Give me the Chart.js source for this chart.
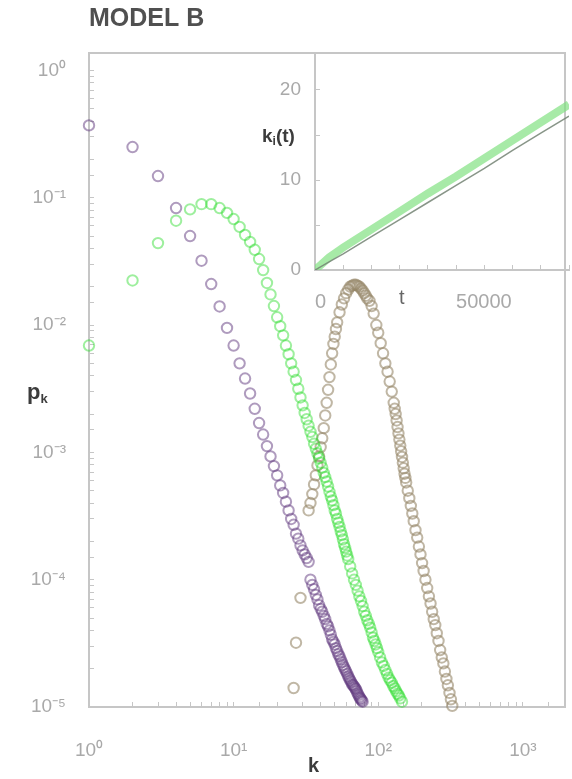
<!DOCTYPE html>
<html>
<head>
<meta charset="utf-8">
<script src="https://cdn.jsdelivr.net/npm/chart.js@4.4.1/dist/chart.umd.min.js"></script>
<style>
  html, body { margin: 0; padding: 0; background: #fff; }
  #wrap { position: relative; width: 572px; height: 779px; }
  #main { position: absolute; left: 0; top: 0; }
  #inset { position: absolute; left: 255px; top: 40px; }
</style>
</head>
<body>
<div id="wrap">
  <canvas id="main" width="572" height="779"></canvas>
  <canvas id="inset" width="317" height="280"></canvas>
</div>
<script>
// degree distribution p_k, three runs
const purpleK = [1, 2, 3, 4, 5, 6, 7, 8, 9, 10, 11, 12, 13, 14, 15, 16, 17, 18, 19, 20,
  21, 22, 23, 24, 25, 26, 27, 28, 29, 30, 31, 32, 33, 34, 35, 36, 37, 38, 39, 40,
  41, 42, 43, 44, 45, 46, 47, 48, 49, 50, 51, 52, 53, 54, 55, 56, 57, 58, 59, 60,
  61, 62, 63, 64, 65, 66, 67, 68, 69, 70, 71, 72, 73, 74, 75, 76, 77, 78];
const purpleP = [3.7e-1, 2.5e-1, 1.48e-1, 8.3e-2, 5.0e-2, 3.2e-2, 2.1e-2, 1.4e-2, 9.5e-3, 6.9e-3,
  5.0e-3, 3.8e-3, 2.9e-3, 2.2e-3, 1.7e-3, 1.38e-3, 1.12e-3, 9.3e-4, 7.8e-4, 6.6e-4,
  5.5e-4, 4.8e-4, 4.1e-4, 3.5e-4, 3.0e-4, 2.7e-4, 2.3e-4, 2.1e-4, 1.86e-4, 1.7e-4,
  1.58e-4, 1.48e-4, 1.38e-4, 1.0e-4, 9.1e-5, 8.4e-5, 7.6e-5, 7.0e-5, 6.3e-5, 5.9e-5,
  5.6e-5, 5.2e-5, 4.9e-5, 4.5e-5, 4.3e-5, 4.0e-5, 3.7e-5, 3.4e-5, 3.25e-5, 3.1e-5,
  2.9e-5, 2.75e-5, 2.6e-5, 2.5e-5, 2.37e-5, 2.25e-5, 2.14e-5, 2.05e-5, 1.97e-5, 1.9e-5,
  1.82e-5, 1.74e-5, 1.68e-5, 1.62e-5, 1.57e-5, 1.51e-5, 1.48e-5, 1.45e-5, 1.41e-5, 1.38e-5,
  1.33e-5, 1.28e-5, 1.24e-5, 1.2e-5, 1.17e-5, 1.15e-5, 1.12e-5, 1.1e-5];

const greenK = [1, 2, 3, 4, 5, 6, 7, 8, 9, 10, 11, 12, 13, 14, 15, 16, 17, 18, 19, 20,
  21, 22, 23, 24, 25, 26, 27, 28, 29, 30, 31, 32, 33, 34, 35, 36, 37, 38, 39, 40,
  41, 42, 43, 44, 45, 46, 47, 48, 49, 50, 51, 52, 53, 54, 55, 56, 57, 58, 59, 60,
  61, 62, 64, 66, 68, 70, 72, 74, 76, 78, 80, 82, 84, 86, 88, 90, 92, 94, 96, 98,
  100, 103, 106, 109, 112, 115, 118, 121, 124, 127, 130, 133, 136, 139, 142, 146];
const greenP = [6.9e-3, 2.24e-2, 4.4e-2, 6.6e-2, 8.1e-2, 8.9e-2, 8.9e-2, 8.3e-2, 7.6e-2, 6.8e-2,
  5.9e-2, 5.1e-2, 4.5e-2, 3.9e-2, 3.3e-2, 2.7e-2, 2.14e-2, 1.74e-2, 1.41e-2, 1.15e-2,
  9.8e-3, 8.3e-3, 6.9e-3, 5.9e-3, 5.0e-3, 4.3e-3, 3.7e-3, 3.16e-3, 2.7e-3, 2.34e-3,
  2.04e-3, 1.82e-3, 1.62e-3, 1.45e-3, 1.32e-3, 1.17e-3, 1.07e-3, 9.8e-4, 9.0e-4, 8.3e-4,
  7.6e-4, 6.9e-4, 6.4e-4, 5.9e-4, 5.4e-4, 4.9e-4, 4.5e-4, 4.2e-4, 3.85e-4, 3.5e-4,
  3.3e-4, 3.0e-4, 2.8e-4, 2.6e-4, 2.4e-4, 2.24e-4, 2.07e-4, 1.9e-4, 1.78e-4, 1.66e-4,
  1.55e-4, 1.45e-4, 1.27e-4, 1.12e-4, 1.0e-4, 9.1e-5, 8.2e-5, 7.4e-5, 6.8e-5, 6.2e-5,
  5.6e-5, 5.2e-5, 4.8e-5, 4.5e-5, 4.2e-5, 3.85e-5, 3.5e-5, 3.3e-5, 3.1e-5, 2.9e-5,
  2.7e-5, 2.45e-5, 2.24e-5, 2.1e-5, 1.95e-5, 1.82e-5, 1.7e-5, 1.62e-5, 1.55e-5, 1.46e-5,
  1.4e-5, 1.33e-5, 1.27e-5, 1.23e-5, 1.17e-5, 1.1e-5];

const brownK = [26, 27, 29, 33, 34, 35, 36, 37, 38, 39, 40, 41, 42, 43, 44, 45, 46, 47, 48, 49,
  50, 51, 52, 54, 56, 58, 60, 62, 64, 66, 68, 70, 72, 74, 76, 78, 80, 82, 84, 87,
  90, 93, 97, 100, 104, 108, 112, 116, 120, 124, 128, 130, 132, 134, 136, 138, 140, 142, 144, 146,
  148, 150, 152, 154, 156, 160, 164, 168, 172, 176, 181, 186, 191, 196, 201, 206, 212, 218, 224, 230,
  236, 242, 248, 254, 261, 268, 275, 282, 289, 296, 303, 311, 318, 325];
const brownP = [1.41e-5, 3.2e-5, 7.2e-5, 3.5e-4, 4.0e-4, 4.7e-4, 5.6e-4, 6.6e-4, 7.9e-4, 9.3e-4,
  1.1e-3, 1.29e-3, 1.55e-3, 1.95e-3, 2.45e-3, 3.1e-3, 3.9e-3, 4.9e-3, 6.0e-3, 7.1e-3,
  8.1e-3, 9.3e-3, 1.05e-2, 1.26e-2, 1.45e-2, 1.62e-2, 1.78e-2, 1.9e-2, 2.0e-2, 2.04e-2,
  2.07e-2, 2.07e-2, 2.04e-2, 2.0e-2, 1.93e-2, 1.86e-2, 1.78e-2, 1.7e-2, 1.62e-2, 1.55e-2,
  1.41e-2, 1.23e-2, 1.0e-2, 8.7e-3, 7.2e-3, 6.0e-3, 5.0e-3, 4.3e-3, 3.6e-3, 3.0e-3,
  2.45e-3, 2.2e-3, 2.0e-3, 1.78e-3, 1.58e-3, 1.41e-3, 1.26e-3, 1.13e-3, 1.02e-3, 9.2e-4,
  8.3e-4, 7.5e-4, 6.8e-4, 6.3e-4, 5.8e-4, 5.0e-4, 4.37e-4, 3.8e-4, 3.31e-4, 2.88e-4,
  2.45e-4, 2.14e-4, 1.82e-4, 1.58e-4, 1.35e-4, 1.17e-4, 1.0e-4, 8.6e-5, 7.4e-5, 6.5e-5,
  5.6e-5, 4.9e-5, 4.4e-5, 3.8e-5, 3.3e-5, 2.8e-5, 2.45e-5, 2.2e-5, 1.9e-5, 1.66e-5,
  1.48e-5, 1.29e-5, 1.15e-5, 1.02e-5];

// inset: k_i(t) against t
const insetT = [0, 5000, 10000, 20000, 30000, 40000, 50000, 60000, 70000, 80000, 90000];
const insetGreen = [0, 1.4, 2.5, 4.5, 6.5, 8.5, 10.4, 12.4, 14.4, 16.4, 18.4];
const insetGray = [0, 0.9, 1.8, 3.7, 5.6, 7.5, 9.4, 11.3, 13.3, 15.2, 17.1];

// tick labels
const xDecades = [1, 10, 100, 1000];
const xDecadeLabels = ['10⁰', '10¹', '10²', '10³'];
const yDecades = [1e-5, 1e-4, 1e-3, 1e-2, 1e-1, 1];
const yDecadeLabels = ['10⁻⁵', '10⁻⁴', '10⁻³', '10⁻²', '10⁻¹', '10⁰'];
const insetTTicks = [0, 50000];
const insetTTickLabels = ['0', '50000'];
const insetKTicks = [0, 10, 20];
const insetKTickLabels = ['0', '10', '20'];

const axisColor = '#c6c6c6';
const tickLabelColor = '#a9a9a9';
const captionColor = '#3c3c3c';
const family = '"Liberation Sans", Arial, sans-serif';

const toXY = (xs, ys) => xs.map((x, i) => ({ x: x, y: ys[i] }));

function labelFor(values, labels) {
  return v => {
    const i = values.findIndex(d => Math.abs(v - d) <= Math.abs(d) * 1e-6);
    return i < 0 ? '' : labels[i];
  };
}

// pin a scale's size and drop the label overhang chart.js reserves
const pinSize = (w, h) => s => {
  if (w !== null) s.width = w;
  if (h !== null) s.height = h;
  s.paddingLeft = 0; s.paddingRight = 0; s.paddingTop = 0; s.paddingBottom = 0;
};

// axis captions that are not rotated (p_k, k, k_i(t), t)
const captions = {
  id: 'captions',
  afterDraw(chart, args, opts) {
    const ctx = chart.ctx;
    ctx.save();
    ctx.textBaseline = 'middle';
    ctx.textAlign = 'left';
    (opts.items || []).forEach(item => {
      let x = item.x;
      ctx.fillStyle = item.color || captionColor;
      item.parts.forEach(([txt, sub]) => {
        ctx.font = sub ? item.subFont : item.font;
        ctx.fillText(txt, x, item.y + (sub ? item.subShift : 0));
        x += ctx.measureText(txt).width;
      });
    });
    ctx.restore();
  }
};

const frameAxis = (pos, w, h) => ({
  position: pos,
  type: 'linear',
  grid: { display: false, drawTicks: false },
  ticks: { display: false },
  border: { color: axisColor, width: 2 },
  afterFit: pinSize(w, h)
});

new Chart(document.getElementById('main'), {
  type: 'scatter',
  data: {
    datasets: [
      { data: toXY(purpleK, purpleP), borderColor: 'rgba(95,55,125,0.5)', backgroundColor: 'rgba(0,0,0,0)', clip: false },
      { data: toXY(greenK, greenP), borderColor: 'rgba(40,220,40,0.45)', backgroundColor: 'rgba(0,0,0,0)', clip: false },
      { data: toXY(brownK, brownP), borderColor: 'rgba(150,135,105,0.6)', backgroundColor: 'rgba(0,0,0,0)', clip: false }
    ]
  },
  options: {
    responsive: false,
    animation: false,
    events: [],
    layout: { padding: { left: 0, right: 3, top: 0, bottom: 0 } },
    elements: { point: { radius: 5.2, hoverRadius: 5.2, borderWidth: 2, pointStyle: 'circle' } },
    plugins: {
      legend: { display: false },
      tooltip: { enabled: false },
      title: {
        display: true, text: 'MODEL B', align: 'start', fullSize: false,
        color: '#505050', font: { family: family, size: 25, weight: 'bold' },
        padding: { top: 4, bottom: 19 }
      },
      captions: {
        items: [
          { parts: [['p'], ['k', true]], x: 27, y: 393, font: 'bold 22px ' + family, subFont: 'bold 13px ' + family, subShift: 6 },
          { parts: [['k']], x: 308, y: 766, font: 'bold 20px ' + family }
        ]
      }
    },
    scales: {
      x: {
        type: 'logarithmic', min: 1, max: 1950,
        border: { color: axisColor, width: 2 },
        grid: { drawOnChartArea: false, tickLength: -5, color: axisColor },
        ticks: {
          autoSkip: false, maxRotation: 0, padding: 37, color: tickLabelColor,
          font: { family: family, size: 19 },
          callback: labelFor(xDecades, xDecadeLabels)
        },
        afterFit: pinSize(null, 72)
      },
      y: {
        type: 'logarithmic', min: 1e-5, max: 1.37,
        border: { color: axisColor, width: 2 },
        grid: { drawOnChartArea: false, tickLength: -5, color: axisColor },
        ticks: {
          autoSkip: false, padding: 28, color: tickLabelColor,
          font: { family: family, size: 19 },
          callback: labelFor(yDecades, yDecadeLabels)
        },
        afterFit: pinSize(89, null)
      },
      x2: frameAxis('top', null, 0),
      y2: frameAxis('right', 0, null)
    }
  },
  plugins: [captions]
});

new Chart(document.getElementById('inset'), {
  type: 'line',
  data: {
    datasets: [
      { data: toXY(insetT, insetGray), borderColor: 'rgba(115,130,115,0.85)', borderWidth: 1.5, order: 0 },
      { data: toXY(insetT, insetGreen), borderColor: 'rgba(130,225,130,0.7)', borderWidth: 8, order: 1 }
    ]
  },
  options: {
    responsive: false,
    animation: false,
    events: [],
    layout: { padding: { left: 0, right: 3, top: 14, bottom: 0 } },
    elements: { point: { radius: 0, hoverRadius: 0 }, line: { tension: 0, borderCapStyle: 'butt' } },
    plugins: {
      legend: { display: false },
      tooltip: { enabled: false },
      captions: {
        items: [
          { parts: [['k'], ['i', true], ['(t)']], x: 7, y: 97, font: 'bold 19px ' + family, subFont: 'bold 12px ' + family, subShift: 5 },
          { parts: [['t']], x: 144, y: 258, font: '20px ' + family, color: '#666' }
        ]
      }
    },
    scales: {
      x: {
        type: 'linear', min: 0, max: 90000,
        border: { color: axisColor, width: 2 },
        grid: { drawOnChartArea: false, tickLength: -5, color: axisColor },
        ticks: {
          stepSize: 10000, autoSkip: false, maxRotation: 0, align: 'start', padding: 25,
          color: tickLabelColor, font: { family: family, size: 20 },
          callback: labelFor(insetTTicks, insetTTickLabels)
        },
        afterFit: pinSize(null, 50)
      },
      y: {
        type: 'linear', min: 0, max: 24,
        border: { color: axisColor, width: 2 },
        grid: { drawOnChartArea: false, tickLength: -5, color: axisColor },
        ticks: {
          stepSize: 5, includeBounds: false, autoSkip: false, padding: 19,
          color: tickLabelColor, font: { family: family, size: 19 },
          callback: labelFor(insetKTicks, insetKTickLabels)
        },
        afterFit: pinSize(60, null)
      }
    }
  },
  plugins: [captions]
});
</script>
</body>
</html>
